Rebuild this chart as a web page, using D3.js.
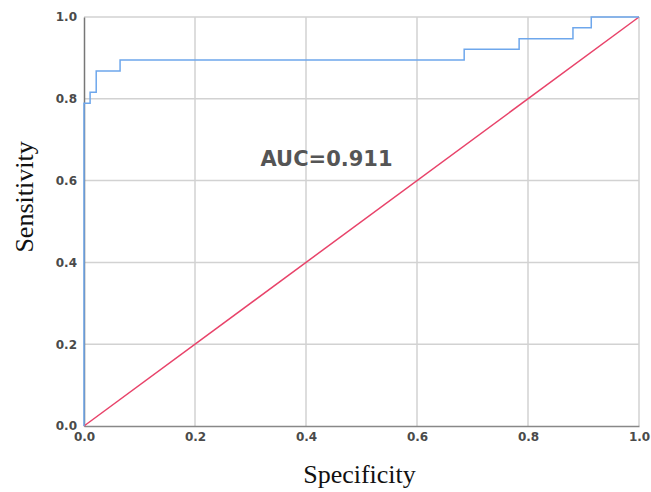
<!DOCTYPE html>
<html>
<head>
<meta charset="utf-8">
<script src="https://cdn.jsdelivr.net/npm/d3@7"></script>
<style>
  body { margin: 0; background: #fff; }
  .tick text { font-family: "DejaVu Sans", Verdana, sans-serif; font-weight: bold; font-size: 12px; fill: #4a4a4a; }
</style>
</head>
<body>
<div id="chart"></div>
<script>
// ROC step curve (1 - specificity on x, sensitivity on y)
const rocX = [0, 0, 0.011, 0.011, 0.022, 0.022, 0.065, 0.065, 0.685, 0.685, 0.784, 0.784, 0.881, 0.881, 0.914, 0.914, 1.0];
const rocY = [0, 0.789, 0.789, 0.816, 0.816, 0.868, 0.868, 0.895, 0.895, 0.921, 0.921, 0.947, 0.947, 0.974, 0.974, 1.0, 1.0];
const refLine = [0, 1];
const ticks = [0, 0.2, 0.4, 0.6, 0.8, 1.0];
const aucLabel = "AUC=0.911";

const W = 651, H = 492;
const margin = { top: 17, right: 12, bottom: 66, left: 84 },
      width = W - margin.left - margin.right,
      height = H - margin.top - margin.bottom;

const svg = d3.select("#chart")
  .append("svg")
    .attr("width", W)
    .attr("height", H)
  .append("g")
    .attr("transform", `translate(${margin.left},${margin.top})`);

const x = d3.scaleLinear().domain([0, 1]).range([0, width]);
const y = d3.scaleLinear().domain([0, 1]).range([height, 0]);

// grid
svg.append("g")
  .selectAll("line.gx")
  .data(ticks.slice(1))
  .join("line")
    .attr("x1", d => x(d)).attr("x2", d => x(d))
    .attr("y1", 0).attr("y2", height)
    .attr("stroke", "#d2d2d2").attr("stroke-width", 1.5);

svg.append("g")
  .selectAll("line.gy")
  .data(ticks.slice(1))
  .join("line")
    .attr("x1", 0).attr("x2", width)
    .attr("y1", d => y(d)).attr("y2", d => y(d))
    .attr("stroke", "#d2d2d2").attr("stroke-width", 1.5);

// axes
const xAxis = svg.append("g")
  .attr("transform", `translate(0,${height})`)
  .call(d3.axisBottom(x).tickValues(ticks).tickFormat(d3.format(".1f")).tickSize(0).tickPadding(6));
xAxis.select(".domain").attr("stroke", "#888").attr("stroke-width", 1.5);

const yAxis = svg.append("g")
  .call(d3.axisLeft(y).tickValues(ticks).tickFormat(d3.format(".1f")).tickSize(0).tickPadding(7));
yAxis.select(".domain").attr("stroke", "#777").attr("stroke-width", 1.5);

// reference diagonal
svg.append("line")
  .attr("x1", x(refLine[0])).attr("y1", y(refLine[0]))
  .attr("x2", x(refLine[1])).attr("y2", y(refLine[1]))
  .attr("stroke", "#e8436a").attr("stroke-width", 1.5);

// ROC curve
const pts = rocX.map((v, i) => [v, rocY[i]]);
svg.append("path")
  .datum(pts)
  .attr("fill", "none")
  .attr("stroke", "#6ea7ec")
  .attr("stroke-width", 1.5)
  .attr("d", d3.line().x(d => x(d[0])).y(d => y(d[1])));

// AUC label
svg.append("text")
  .attr("x", x(0.437))
  .attr("y", y(0.636))
  .attr("text-anchor", "middle")
  .style("font-family", "'DejaVu Sans', Verdana, sans-serif")
  .style("font-weight", "bold")
  .style("font-size", "21px")
  .style("fill", "#555")
  .text(aucLabel);

// axis titles
svg.append("text")
  .attr("x", x(0.5) - 2)
  .attr("y", height + 57)
  .attr("text-anchor", "middle")
  .style("font-family", "'Liberation Serif', 'Times New Roman', serif")
  .style("font-size", "26px")
  .style("fill", "#111")
  .text("Specificity");

svg.append("text")
  .attr("transform", `translate(${-51},${y(0.56)}) rotate(-90)`)
  .attr("text-anchor", "middle")
  .style("font-family", "'Liberation Serif', 'Times New Roman', serif")
  .style("font-size", "26px")
  .style("fill", "#111")
  .text("Sensitivity");
</script>
</body>
</html>
